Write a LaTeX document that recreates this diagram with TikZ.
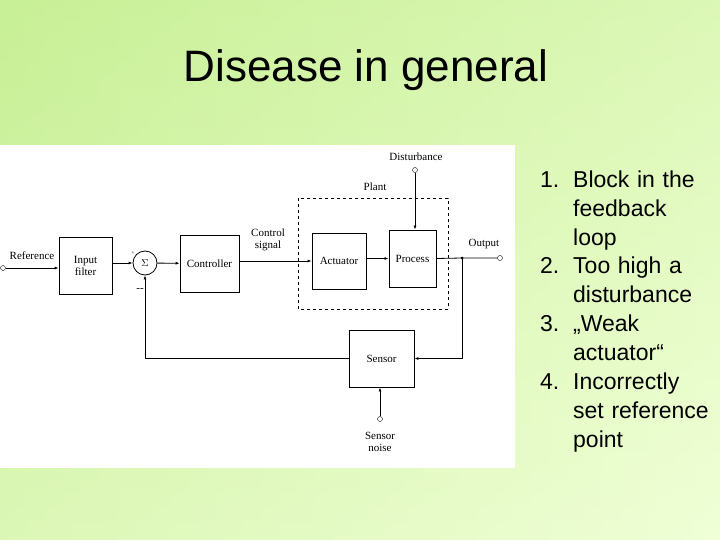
\documentclass[tikz,border=0pt]{standalone}
\usepackage{fontspec}
\setmainfont{Liberation Sans}
\newfontfamily\tms{Liberation Serif}
\usetikzlibrary{arrows.meta}
\begin{document}
\begin{tikzpicture}[x=1pt,y=-1pt,
  blk/.style={draw,thick,minimum width=#1,inner sep=0pt,font=\tms\fontsize{11}{12}\selectfont,align=center},
  lbl/.style={font=\tms\fontsize{11}{12}\selectfont,align=center,inner sep=0pt},
  term/.style={draw,circle,minimum size=5pt,inner sep=0pt},
  ar/.style={-{Latex[length=4pt,width=3pt]}},
  lst/.style={font=\fontsize{23}{29}\selectfont,anchor=north west,inner sep=0pt,align=left,text width=150pt}]
\useasboundingbox (0,0) rectangle (720,540);
\shade[top color={rgb,255:red,200;green,240;blue,150},bottom color={rgb,255:red,240;green,255;blue,215}] (0,0) rectangle (720,540);
\shade[left color={rgb,255:red,200;green,240;blue,150},right color={rgb,255:red,240;green,255;blue,215},opacity=0.5] (0,0) rectangle (720,540);
\node[font=\fontsize{44}{48}\selectfont] (title) at (366,70) {Disease in general};
\fill[white] (0,145) rectangle (515,468);
% blocks
\node[blk=53pt,minimum height=57pt] (filt) at (85.5,265.5) {Input\\filter};
\node[draw,thick,circle,minimum size=24pt,inner sep=0pt] (sum) at (145,263) {$\Sigma$};
\node[blk=59pt,minimum height=57pt] (ctrl) at (209.5,263.5) {Controller};
\node[blk=54pt,minimum height=56pt] (act) at (339,261) {Actuator};
\node[blk=47pt,minimum height=57pt] (proc) at (412.5,258.5) {Process};
\node[blk=65pt,minimum height=57pt] (sens) at (381.5,358.5) {Sensor};
\draw[thick,dashed] (298,198) rectangle (448,309);
\node[lbl] (plant) at (375,187) {Plant};
\node[term] (ref) at (3,268) {};
\node[lbl] (reflbl) at (32,256) {Reference};
\node[term] (dist) at (415,170) {};
\node[lbl] (distlbl) at (416,157) {Disturbance};
\node[term] (out) at (500,258) {};
\node[lbl] (outlbl) at (484,244) {Output};
\node[term] (noise) at (380,419) {};
\node[lbl] (noiselbl) at (380,442) {Sensor\\noise};
\node[lbl] (cs) at (268,240) {Control\\signal};
\coordinate (dot) at (462,258);
\fill (dot) circle (1.5pt);
\node[lbl] (plus) at (133,253) {\tiny +};
\node[lbl] (minus) at (140,290) {--};
% connectors
\draw[thick,ar] (ref) -- (ref -| filt.west);
\draw[thick,ar] (filt.east |- sum) -- (sum.west);
\draw[thick,ar] (sum) -- (ctrl);
\draw[thick,ar] (ctrl.east |- act) -- (act.west);
\draw[thick,ar] (act.east |- proc) -- (proc.west);
\draw[thick,ar] (dist) -- (dist |- proc.north);
\draw[thick] (proc.east) -- (dot) -- (out);
\draw[thick,ar] (dot) |- (sens.east);
\draw[thick,ar] (noise) -- (noise |- sens.south);
\draw[thick,ar] (sens.west) -| (sum.south);
% list
\node[lst] (l1) at (540,171) {1.};
\node[lst] (t1) at (573,171) {Block in the\\ feedback\\ loop};
\node[lst] (l2) at (540,257) {2.};
\node[lst] (t2) at (573,257) {Too high a\\ disturbance};
\node[lst] (l3) at (540,315) {3.};
\node[lst] (t3) at (573,315) {„Weak\\ actuator“};
\node[lst] (l4) at (540,373) {4.};
\node[lst] (t4) at (573,373) {Incorrectly\\ set reference\\ point};
\end{tikzpicture}
\end{document}
